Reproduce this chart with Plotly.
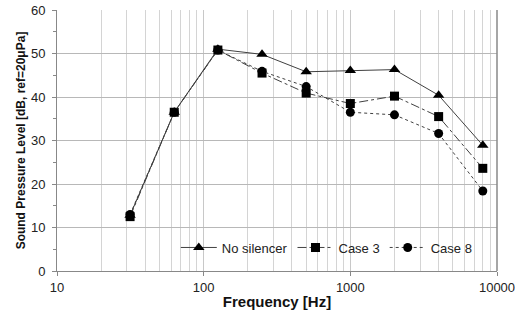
import plotly.graph_objects as go

freq = [31.5, 63, 125, 250, 500, 1000, 2000, 4000, 8000]
no_silencer = [12.8, 36.5, 51.0, 49.8, 45.8, 46.1, 46.3, 40.4, 28.9]
case3 = [12.5, 36.5, 50.8, 45.5, 40.9, 38.5, 40.2, 35.5, 23.6]
case8 = [13.0, 36.5, 50.8, 45.9, 42.4, 36.5, 35.9, 31.6, 18.4]
x_tick_vals = [10, 100, 1000, 10000]
x_tick_text = ["10", "100", "1000", "10000"]

fig = go.Figure()
fig.add_trace(go.Scatter(x=freq, y=no_silencer, name="No silencer", mode="lines+markers",
                         line=dict(color="#404040", width=1, dash="solid"),
                         marker=dict(symbol="triangle-up", size=10, color="black")))
fig.add_trace(go.Scatter(x=freq, y=case3, name="Case 3", mode="lines+markers",
                         line=dict(color="#404040", width=1, dash="dashdot"),
                         marker=dict(symbol="square", size=9, color="black")))
fig.add_trace(go.Scatter(x=freq, y=case8, name="Case 8", mode="lines+markers",
                         line=dict(color="#404040", width=1, dash="dot"),
                         marker=dict(symbol="circle", size=9, color="black")))

fig.update_layout(
    width=515, height=319,
    margin=dict(l=57, r=18, t=10, b=48),
    paper_bgcolor="white", plot_bgcolor="white",
    font=dict(family="Liberation Sans, Arial, sans-serif", size=13, color="#222"),
    showlegend=True,
    legend=dict(orientation="h", x=0.27, y=0.09, xanchor="left", yanchor="middle",
                bgcolor="rgba(0,0,0,0)", font=dict(size=13), itemwidth=36,
                tracegroupgap=0),
    xaxis=dict(type="log", range=[1, 4], tickvals=x_tick_vals, ticktext=x_tick_text,
               showgrid=True, gridcolor="#c8c8c8", ticklabeloverflow="allow",
               gridwidth=1, ticks="outside", ticklen=4, tickcolor="#888",
               showline=True, linecolor="#888", mirror=False, automargin=False,
               tickfont=dict(size=13),
               minor=dict(dtick="D1", showgrid=True, gridcolor="#d4d4d4", ticks=""),
               title=dict(text="<b>Frequency [Hz]</b>", font=dict(size=15, color="#111"), standoff=2),
               zeroline=False),
    yaxis=dict(range=[0, 60], dtick=10, showgrid=True, gridcolor="#b8b8b8",
               ticks="outside", ticklen=4, tickcolor="#888",
               showline=True, linecolor="#888", automargin=False,
               tickfont=dict(size=13), ticklabelstandoff=4,
               minor=dict(dtick=5, ticks="outside", ticklen=3, tickcolor="#888", showgrid=False),
               title=dict(text="<b>Sound Pressure Level [dB, ref=20μPa]</b>", font=dict(size=12, color="#111"), standoff=2),
               zeroline=False),
)
fig.add_shape(type="line", xref="paper", yref="paper", x0=1, x1=1, y0=0, y1=1,
              line=dict(color="#888", width=1.5))

fig.write_html("out.html", config={"displayModeBar": False},
               post_script="document.body.style.margin='0';document.body.style.overflow='hidden';")
